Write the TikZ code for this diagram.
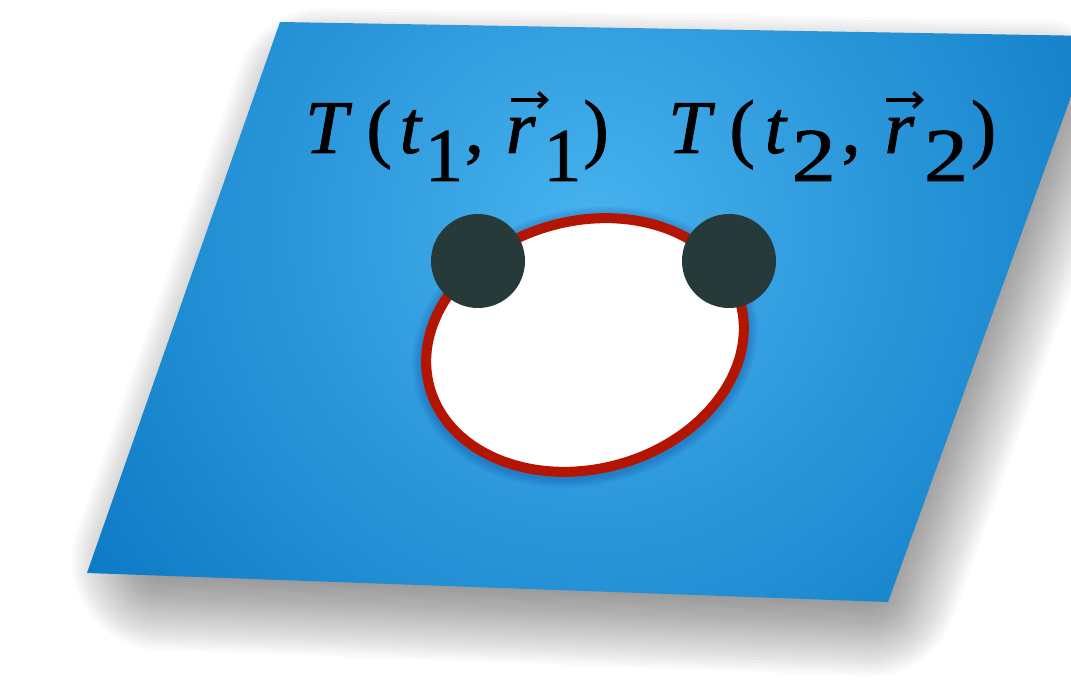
\documentclass[tikz,border=0pt]{standalone}
\usepackage{fontspec}
\setmainfont{Liberation Serif}
\newfontfamily\lblfont{Liberation Serif}[UprightFeatures={FakeBold=1.2}, ItalicFeatures={FakeBold=1.2}]
\usetikzlibrary{arrows.meta}
\definecolor{skyL}{HTML}{46B2EE}
\definecolor{skyD}{HTML}{0B77C3}
\definecolor{rimred}{HTML}{B31500}
\definecolor{dotdark}{HTML}{273A3A}
\begin{document}
\begin{tikzpicture}[x=1pt,y=-1pt,
  lbl/.style={anchor=base west, inner sep=0pt, font=\lblfont\fontsize{76}{80}\selectfont},
  dot/.style={circle, fill=dotdark, minimum size=94pt, inner sep=0pt},
  vecarrow/.style={line width=3.6pt, -{Straight Barb[length=8pt, width=15pt, line width=3.6pt]}}]
\useasboundingbox (0,0) rectangle (1071,684);
% blurred shadow of the plane
\foreach \k in {1,...,30}{
  \begin{scope}[transparency group, opacity=0.0197]
    \filldraw[black, line width=\k*6pt, line join=round]
      (324,98)--(1041,110)--(869,586)--(162,560)--cycle;
  \end{scope}
}
% plane with radial gradient
\begin{scope}
  \clip (280,22)--(1093,36)--(888,602)--(87,573)--cycle;
  \shade[inner color=skyL, outer color=skyD] (590,230) circle (640);
\end{scope}
% soft halo around the ellipse
\foreach \k in {1,...,6}{
  \begin{scope}[transparency group, opacity=0.03]
    \draw[black!60!blue, line width=10pt+\k*3pt, rotate around={15:(585,347)}]
      (585,347) ellipse [x radius=161, y radius=124];
  \end{scope}
}
% ellipse
\draw[line width=10pt, draw=rimred, fill=white, rotate around={15:(585,345)}]
  (585,345) ellipse [x radius=161, y radius=124];
% points
\node[dot] (p1) at (478,261) {};
\node[dot] (p2) at (729,261) {};
% labels
\node[lbl] (l1) at (305,153) {{\itshape T}\hspace{19pt}(\hspace{8pt}{\itshape t}\hspace{4pt}\raisebox{-28pt}{1}\hspace{2pt},\hspace{22pt}{\itshape r}\hspace{8pt}\raisebox{-28pt}{1}\hspace{2pt})};
\node[lbl] (l2) at (668,153) {{\itshape T}\hspace{19pt}(\hspace{10pt}{\itshape t}\hspace{6pt}\raisebox{-28pt}{\scalebox{1.15}[1]{2}}\hspace{6pt},\hspace{24pt}{\itshape r}\hspace{10pt}\raisebox{-28pt}{\scalebox{1.15}[1]{2}}\hspace{3pt})};
% vector arrows over r
\coordinate (a1s) at (511,100); \coordinate (a1e) at (549,100);
\coordinate (a2s) at (886,100); \coordinate (a2e) at (924,100);
\draw[vecarrow] (a1s) -- (a1e);
\draw[vecarrow] (a2s) -- (a2e);
\end{tikzpicture}
\end{document}
